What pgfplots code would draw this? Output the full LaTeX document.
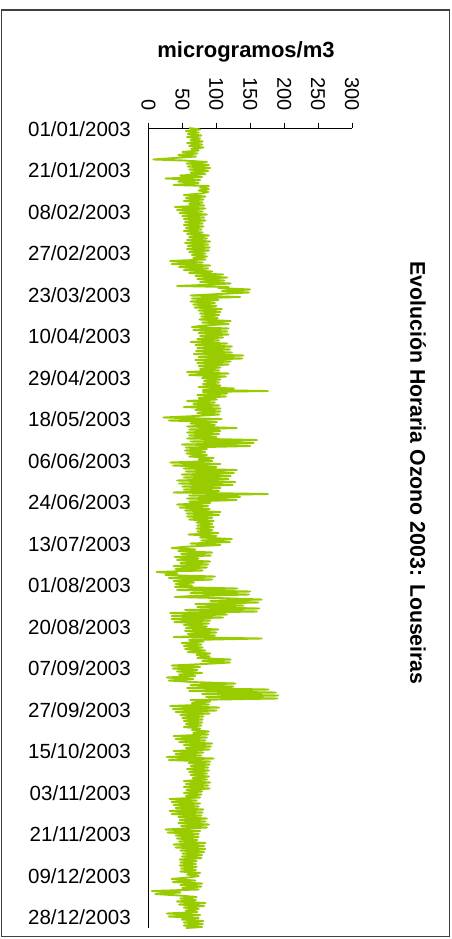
\documentclass[border=0pt]{standalone}
\usepackage{fontspec}
\setmainfont{Liberation Sans}
\usepackage{pgfplots}
\pgfplotsset{compat=1.18}
\definecolor{ozono}{HTML}{99CC00}
\begin{document}
\begin{tikzpicture}
\useasboundingbox (0,0) rectangle (452pt,-939pt);
\draw[line width=1.2pt, black!75] (1.5pt,-10pt) rectangle (449.5pt,-936.5pt);
\node[font=\bfseries\fontsize{22}{26}\selectfont] at (246pt,-52pt) {microgramos/m3};
\node[rotate=-90, font=\bfseries\fontsize{21.3}{26}\selectfont] at (418pt,-473pt) {Evolución Horaria Ozono 2003: Louseiras};
\begin{axis}[
    at={(148.5pt,-928pt)}, anchor=south west,
    scale only axis, width=203.5pt, height=800pt,
    xmin=0, xmax=300, ymin=-928, ymax=-128,
    axis x line*=top, axis y line*=left,
    axis line style={-, line width=0.8pt},
    xtick={0,50,...,300},
    tick align=outside, major tick length=5pt,
    xtick style={line width=0.8pt, black},
    ytick={-128.7,-170.2,-211.7,-253.2,-294.7,-336.2,-377.7,-419.2,-460.7,-502.2,-543.7,-585.2,-626.7,-668.2,-709.7,-751.2,-792.7,-834.2,-875.7,-917.2},
    yticklabels={01/01/2003,21/01/2003,08/02/2003,27/02/2003,23/03/2003,10/04/2003,29/04/2003,18/05/2003,06/06/2003,24/06/2003,13/07/2003,01/08/2003,20/08/2003,07/09/2003,27/09/2003,15/10/2003,03/11/2003,21/11/2003,09/12/2003,28/12/2003},
    ytick style={draw=none},
    /pgf/number format/assume math mode=true,
    xticklabel style={rotate=-90, anchor=east, font=\fontsize{20}{24}\selectfont, inner sep=0pt},
    xticklabel shift=12pt,
    yticklabel style={font=\fontsize{20.5}{24}\selectfont, inner sep=0pt},
    yticklabel shift=12.5pt,
]
% concentracion horaria de ozono (x) frente a la fecha (y, de arriba abajo)
\addplot[ozono, line width=1.9pt, line join=round] coordinates {
(60,-128) (76,-129.5) (55,-131) (74,-132.5) (58,-134) (78,-135.5) (57,-137) (76,-138.5)
(62,-140) (80,-141.5) (57,-143) (79,-144.5) (60,-146) (81,-147.5) (63,-149)
(74,-150.5) (50,-152) (72,-153.5) (44,-155) (70,-156.5)
(7,-159.5) (52,-160.5)
(86,-162) (56,-163.5) (89,-165)
(58,-166.5) (91,-168) (60,-169.5) (88,-171) (62,-172.5) (84,-174)
(47,-175.5) (79,-177) (25,-178.5) (76,-180)
(44,-181.5) (74,-183)
(37,-185) (89,-186)
(76,-187.5) (89,-189) (74,-190.5) (88,-192) (78,-193.5)
(52,-195) (84,-196.5)
(55,-198) (81,-199.5) (52,-201) (80,-202.5)
(60,-204) (82,-205.5)
(39,-207) (84,-208.5) (42,-210) (80,-211.5)
(46,-213) (86,-214.5) (50,-216) (82,-217.5)
(52,-219) (84,-220.5) (54,-222) (80,-223.5)
(52,-225) (81,-226.5) (55,-228) (78,-229.5) (52,-231) (80,-232.5) (57,-234)
(89,-235.5) (60,-237) (86,-238.5) (57,-240)
(91,-241.5) (54,-243) (88,-244.5) (58,-246) (90,-247.5)
(57,-249) (89,-250.5) (60,-252) (84,-253.5)
(64,-255) (86,-256.5) (66,-258) (84,-259.5)
(32,-261) (80,-262.5)
(34,-264) (91,-265.5) (45,-267) (88,-268.5)
(52,-270) (94,-271.5) (60,-273)
(110,-274.5) (69,-276) (116,-277.5) (72,-279) (112,-280.5)
(76,-282) (121,-283.5) (80,-285)
(42,-286) (118,-287)
(103,-288) (150,-289.5) (108,-291) (148,-292.5) (104,-294)
(62,-295.5) (135,-297)
(64,-298.5) (103,-300) (62,-301.5) (98,-303) (66,-304.5) (100,-306) (68,-307.5)
(108,-309) (74,-310.5) (106,-312) (76,-313.5) (104,-315) (78,-316.5) (102,-318) (75,-319.5)
(121,-321) (79,-322.5) (118,-324) (82,-325.5)
(64,-327) (118,-328.5) (66,-330)
(116,-331.5) (74,-333) (118,-334.5) (76,-336)
(110,-337.5) (72,-339) (104,-340.5)
(62,-342) (116,-343.5)
(69,-345) (123,-346.5) (72,-348) (120,-349.5)
(70,-351) (123,-352.5) (67,-354) (140,-355.5) (74,-357) (138,-358.5)
(69,-360) (121,-361.5) (72,-363) (118,-364.5)
(74,-366) (106,-367.5) (76,-369) (104,-370.5)
(57,-372) (118,-373.5) (60,-375) (114,-376.5)
(79,-378) (106,-379.5) (82,-381) (104,-382.5) (80,-384) (106,-385.5)
(74,-387) (126,-388.5) (80,-390) (176,-391) (80,-392)
(116,-393.5) (72,-395) (114,-396.5) (74,-398)
(101,-399.5) (57,-401)
(98,-402.5) (66,-404) (104,-405.5)
(52,-407) (106,-408.5)
(69,-410) (106,-411.5) (72,-413) (104,-414.5) (70,-416)
(22,-417.5) (108,-419) (30,-420.5)
(101,-422) (62,-423.5) (98,-425)
(57,-426.5) (130,-428) (60,-429.5)
(106,-431) (57,-432.5) (104,-434) (60,-435.5) (100,-437)
(57,-438.5) (160,-440) (62,-441.5) (155,-443)
(49,-444.5) (150,-446) (55,-447.5)
(86,-449) (54,-450.5) (84,-452) (56,-453.5) (86,-455) (60,-456.5)
(96,-458) (74,-459.5) (94,-461)
(32,-462.5) (106,-464) (36,-465.5) (100,-467)
(52,-468.5) (130,-470) (55,-471.5) (126,-473)
(49,-474.5) (121,-476) (52,-477.5) (118,-479)
(42,-480.5) (128,-482) (45,-483.5) (124,-485) (50,-486.5)
(106,-488) (52,-489.5) (104,-491)
(37,-492.5) (176,-494) (60,-495.5)
(135,-497) (57,-498.5) (130,-500) (60,-501.5)
(91,-503) (42,-504.5) (88,-506) (46,-507.5) (90,-509)
(54,-510.5) (106,-512) (56,-513.5) (104,-515)
(57,-516.5) (94,-518) (60,-519.5)
(96,-521) (71,-522.5) (94,-524) (72,-525.5) (96,-527) (71,-528.5) (94,-530) (72,-531.5)
(103,-533) (59,-534.5) (100,-536)
(76,-537.5) (123,-539) (78,-540.5) (120,-542)
(62,-543.5) (106,-545) (60,-546.5)
(34,-548) (69,-549.5)
(44,-551) (94,-552.5) (48,-554) (92,-555.5)
(39,-557) (74,-558.5) (42,-560)
(91,-561.5) (47,-563) (88,-564.5)
(37,-566) (86,-567.5) (40,-569) (80,-570.5)
(12,-572) (42,-573.5)
(25,-575) (98,-576.5) (30,-578) (94,-579.5)
(37,-581) (67,-582.5) (40,-584) (64,-585.5)
(39,-587) (131,-588.5) (42,-590)
(150,-591.5) (62,-593) (148,-594.5) (65,-596)
(39,-597) (101,-598)
(167,-599.5) (91,-601) (162,-602.5)
(69,-604) (140,-605.5) (72,-607)
(163,-608.5) (54,-610) (160,-611.5)
(32,-613) (116,-614.5) (34,-616) (110,-617.5)
(34,-619) (91,-620.5) (38,-622)
(89,-623.5) (52,-625) (86,-626.5) (55,-628)
(103,-629.5) (54,-631) (100,-632.5) (58,-634) (98,-635.5)
(37,-637) (167,-638.5) (60,-640)
(81,-641.5) (49,-643) (78,-644.5) (52,-646) (80,-647.5)
(54,-649) (84,-650.5) (58,-652)
(91,-653.5) (71,-655) (90,-656.5) (72,-658)
(121,-659.5) (79,-661) (120,-662.5) (82,-664)
(34,-665.5) (76,-667) (36,-668.5) (72,-670)
(42,-671.5) (79,-673) (45,-674.5)
(69,-676) (27,-677.5) (66,-679) (30,-680.5) (64,-682)
(128,-683.5) (62,-685) (125,-686.5)
(57,-688) (177,-689.5) (60,-691)
(188,-692.5) (79,-694) (191,-695.5) (85,-697)
(190,-698.5)
(62,-700) (91,-701.5) (64,-703)
(89,-704.5) (32,-706) (104,-707.5) (36,-709) (100,-710.5) (40,-712) (90,-713.5)
(47,-715) (81,-716.5) (50,-718) (80,-719.5)
(52,-721) (79,-722.5) (55,-724) (78,-725.5) (52,-727) (76,-728.5)
(64,-730) (89,-731.5) (66,-733) (88,-734.5)
(37,-736) (86,-737.5) (40,-739) (84,-740.5) (45,-742)
(94,-743.5) (52,-745) (92,-746.5) (55,-748) (90,-749.5)
(37,-751) (81,-752.5) (40,-754) (78,-755.5)
(27,-757) (96,-758.5) (30,-760)
(91,-761.5) (59,-763) (90,-764.5) (62,-766) (88,-767.5)
(57,-769) (89,-770.5) (60,-772) (86,-773.5)
(62,-775) (89,-776.5) (65,-778) (86,-779.5)
(52,-781) (91,-782.5) (55,-784) (88,-785.5) (52,-787) (90,-788.5) (56,-790)
(79,-791.5) (52,-793) (78,-794.5) (55,-796) (76,-797.5)
(31,-799) (71,-800.5) (34,-802)
(76,-803.5) (37,-805) (74,-806.5) (40,-808)
(81,-809.5) (31,-811) (80,-812.5) (34,-814) (78,-815.5)
(44,-817) (86,-818.5) (46,-820) (84,-821.5)
(44,-823) (89,-824.5) (48,-826) (86,-827.5)
(25,-829.5) (76,-831) (28,-832.5) (74,-834) (40,-835.5)
(74,-837) (42,-838.5) (72,-840) (45,-841.5)
(84,-843) (37,-844.5) (82,-846) (40,-847.5)
(84,-849) (47,-850.5) (82,-852) (50,-853.5)
(79,-855) (49,-856.5) (78,-858)
(46,-859.5) (71,-861) (47,-862.5) (70,-864) (46,-865.5) (71,-867) (48,-868.5) (70,-870) (47,-871.5)
(76,-873) (57,-874.5) (74,-876) (58,-877.5)
(34,-879) (69,-880.5) (36,-882)
(79,-883.5) (47,-885) (78,-886.5) (50,-888)
(74,-889.5) (5,-891) (47,-892.5) (10,-894) (45,-895.5)
(71,-897) (47,-898.5) (70,-900)
(42,-901.5) (84,-903) (45,-904.5) (82,-906)
(52,-907.5) (74,-909) (55,-910.5) (72,-912)
(27,-913.5) (76,-915) (30,-916.5) (74,-918)
(49,-919.5) (81,-921) (52,-922.5) (80,-924)
(52,-925.5) (79,-927) (55,-928)
};
\end{axis}
\end{tikzpicture}
\end{document}
